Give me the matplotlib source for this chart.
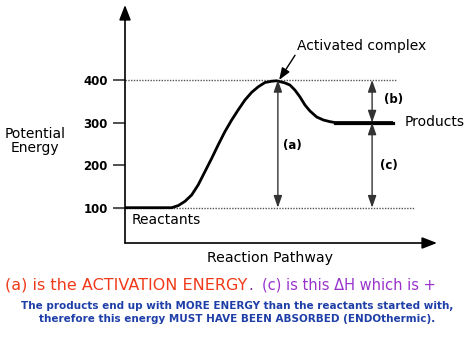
import matplotlib
matplotlib.use("Agg")
import matplotlib.pyplot as plt

# ---- data ----
pathway = [0, 14.97, 17.08, 19.23, 21.38, 23.49, 25.64, 27.79, 29.90, 32.05, 34.20,
           36.31, 38.46, 40.61, 42.72, 44.87, 47.02, 48.62, 51.28, 52.88, 54.49,
           56.09, 57.69, 59.29, 61.44, 63.56, 65.71, 67.31, 85.90]
energy = [100, 100, 105, 115, 130, 154, 185, 216, 248, 279, 306,
          330, 353, 371, 384, 394, 397, 398, 393, 388, 376,
          360, 341, 327, 313, 306, 302, 300, 300]
yticks = [100, 200, 300, 400]
reactant_level = 100
peak_level = 400
product_level = 300
x_activation = 49.0
x_delta = 79.2

W, H = 474, 355
fig = plt.figure(figsize=(W / 100, H / 100), dpi=100)
fig.patch.set_facecolor("white")

ax = fig.add_axes([125 / W, (H - 243) / H, (437 - 125) / W, (243 - 5) / H])
ax.set_xlim(0, 100)
ax.set_ylim(17.1, 576)
for s in ax.spines.values():
    s.set_visible(False)

SANS = "DejaVu Sans"

# axes arrows
ax.annotate("", xy=(0, 1), xytext=(0, 0), xycoords="axes fraction",
            arrowprops=dict(arrowstyle="-|>,head_length=0.9,head_width=0.35", color="black",
                            lw=1.2, shrinkA=0, shrinkB=0, mutation_scale=10))
ax.annotate("", xy=(1, 0), xytext=(0, 0), xycoords="axes fraction",
            arrowprops=dict(arrowstyle="-|>,head_length=0.9,head_width=0.35", color="black",
                            lw=1.2, shrinkA=0, shrinkB=0, mutation_scale=10))

ax.set_xticks([])
ax.set_yticks(yticks)
ax.set_yticklabels([str(v) for v in yticks], fontfamily=SANS, fontweight="bold", fontsize=8.5)
ax.tick_params(axis="y", length=8.5, width=1.2, pad=4, color="#333333")

# dotted reference lines
ax.hlines(peak_level, 0, 87.2, colors="#555555", linestyles=(0, (1, 1)), lw=1)
ax.hlines(reactant_level, -3.2, 92.9, colors="#555555", linestyles=(0, (1, 1)), lw=1,
          clip_on=False)

# energy curve
ax.plot(pathway, energy, color="black", lw=2, solid_joinstyle="round",
        solid_capstyle="butt")
ax.plot([pathway[-2], pathway[-1]], [energy[-2], energy[-1]], color="black", lw=2.3)

# double-headed arrows
arw = dict(arrowstyle="<|-|>,head_length=0.8,head_width=0.28", color="#333333", lw=1,
           shrinkA=0, shrinkB=0, mutation_scale=9)
ax.annotate("", xy=(x_activation, peak_level), xytext=(x_activation, reactant_level),
            arrowprops=arw)
ax.annotate("", xy=(x_delta, peak_level), xytext=(x_delta, product_level), arrowprops=arw)
ax.annotate("", xy=(x_delta, product_level), xytext=(x_delta, reactant_level),
            arrowprops=arw)

lbl = dict(fontfamily=SANS, fontweight="bold", fontsize=8.5, ha="center", va="center")
ax.text(53.5, 247, "(a)", **lbl)
ax.text(86.2, 353, "(b)", **lbl)
ax.text(84.6, 200, "(c)", **lbl)

txt = dict(fontfamily=SANS, fontsize=10, va="center")
ax.text(89.7, 301, "Products", ha="left", **txt)
ax.text(2.2, 71, "Reactants", ha="left", **txt)
ax.text(55.1, 480, "Activated complex", ha="left", **txt)
ax.annotate("", xy=(x_activation + 0.4, peak_level), xytext=(54.5, 458),
            arrowprops=dict(arrowstyle="-|>,head_length=0.8,head_width=0.3",
                            color="black", lw=1, shrinkA=0, shrinkB=0, mutation_scale=9))

fig.text(35 / W, 1 - 141 / H, "Potential\nEnergy", ha="center", va="center",
         fontfamily=SANS, fontsize=10, linespacing=1.0)
fig.text(270 / W, 1 - 258 / H, "Reaction Pathway", ha="center", va="center",
         fontfamily=SANS, fontsize=10.2)

# captions
fig.text(5 / W, 1 - 285 / H, "(a) is the ACTIVATION ENERGY", ha="left", va="center",
         fontfamily="DejaVu Sans", fontsize=11.5, color="#f03a1a")
fig.text(248 / W, 1 - 285 / H, ".", ha="left", va="center",
         fontfamily="DejaVu Sans", fontsize=10.5, color="#7a2a8a")
fig.text(262 / W, 1 - 285 / H, "(c) is this \u0394H which is +", ha="left", va="center",
         fontfamily="DejaVu Sans", fontsize=10.5, color="#9933cc")
fig.text(237 / W, 1 - 306 / H,
         "The products end up with MORE ENERGY than the reactants started with,",
         ha="center", va="center", fontfamily="DejaVu Sans", fontweight="bold",
         fontsize=7.5, color="#1f3fa8")
fig.text(237 / W, 1 - 319 / H,
         "therefore this energy MUST HAVE BEEN ABSORBED (ENDOthermic).",
         ha="center", va="center", fontfamily="DejaVu Sans", fontweight="bold",
         fontsize=7.5, color="#1f3fa8")

fig.savefig("out.png", dpi=100, facecolor="white")
